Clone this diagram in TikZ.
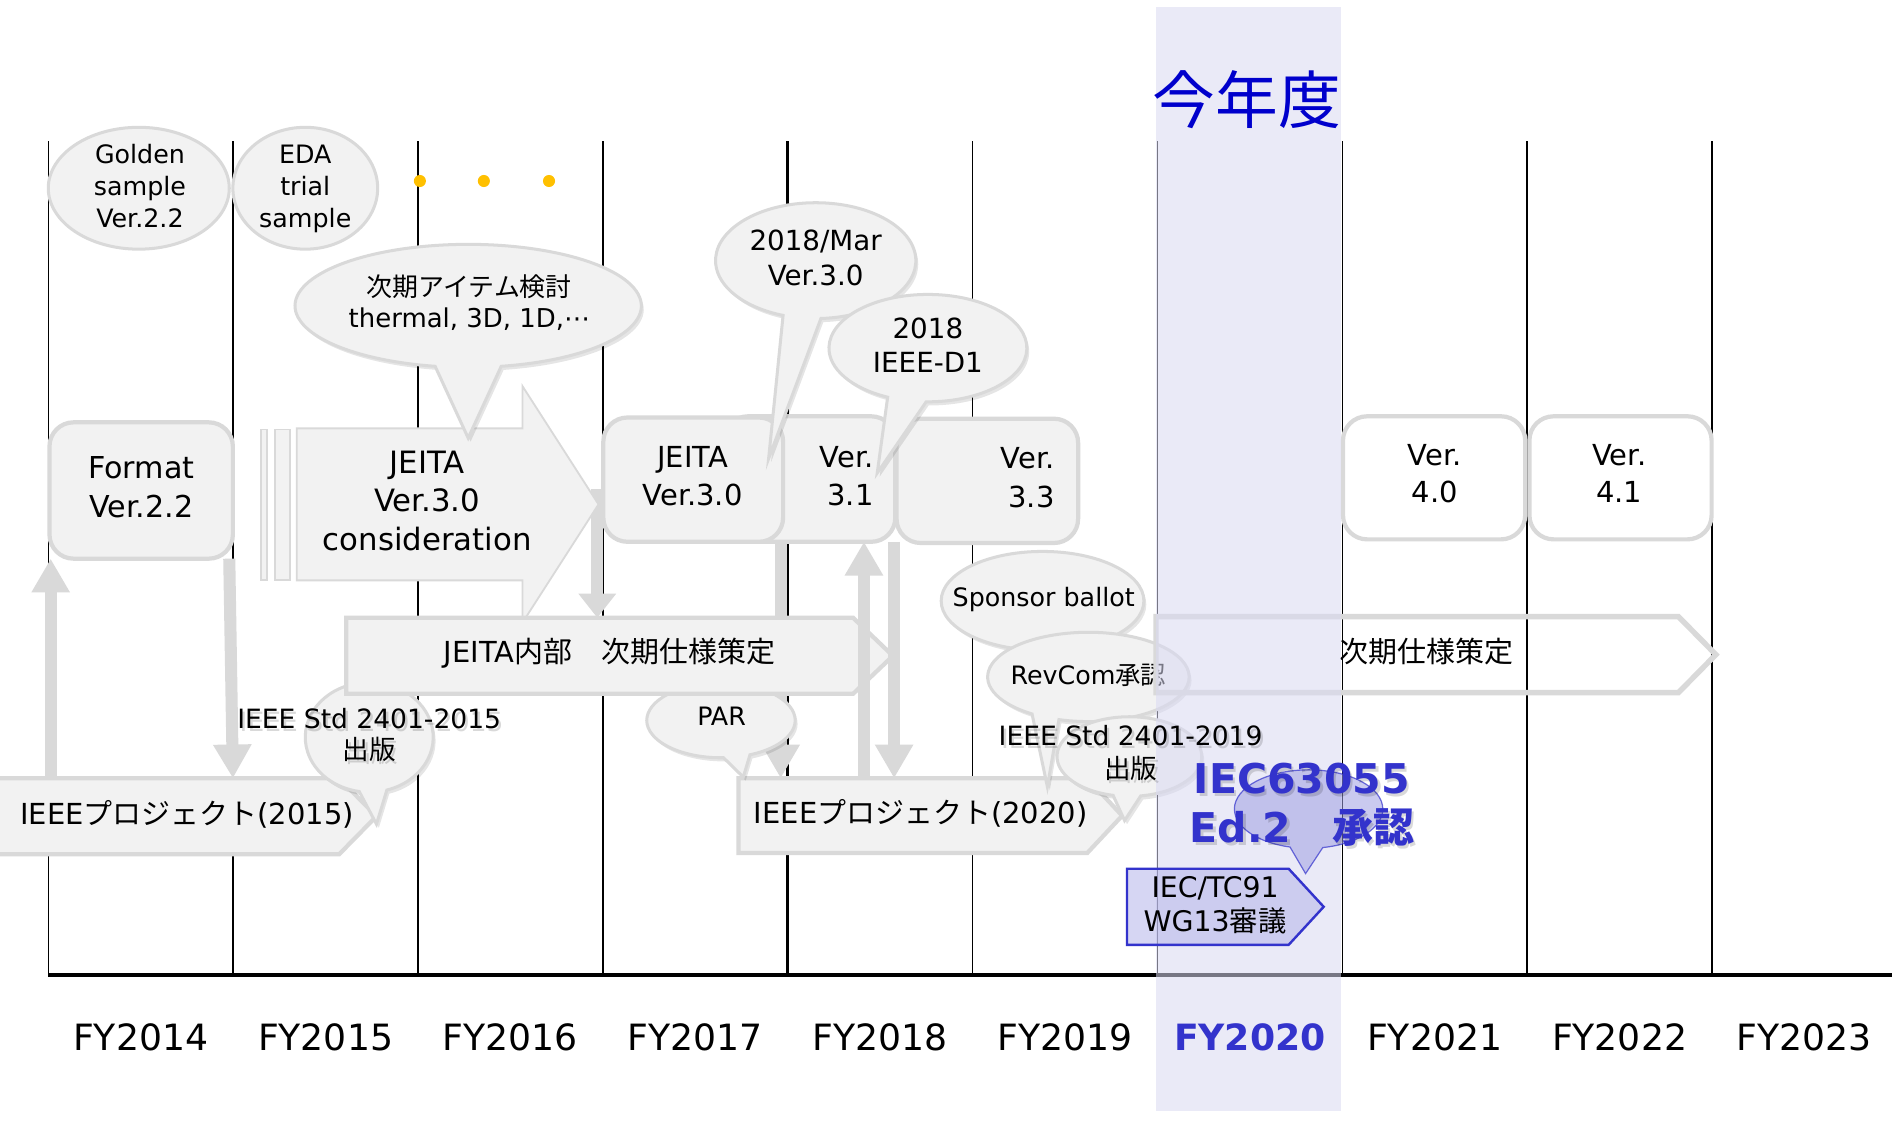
\documentclass[tikz,border=0pt]{standalone}
\usepackage{fontspec}
\setmainfont{DejaVu Sans}
\newfontfamily\jp{Noto Sans CJK JP}
\usetikzlibrary{arrows.meta}
\definecolor{gfill}{HTML}{F2F2F2}
\definecolor{gline}{HTML}{D9D9D9}
\definecolor{colbg}{RGB}{217,217,242}
\definecolor{nowblue}{RGB}{0,0,204}
\definecolor{iecblue}{RGB}{51,51,204}
\definecolor{iecfill}{RGB}{175,175,232}
\definecolor{ieccfill}{RGB}{160,160,226}
\definecolor{dotyel}{HTML}{FFC000}
\newcommand\J[1]{{\jp #1}}
\newcommand\fs[2]{\fontsize{#1}{#2}\selectfont}
\newcommand\callpath[9]{\path[#1] (#2,#3) ++(#6:#4pt and #5pt) arc[start angle=#6, end angle=#7, x radius=#4pt, y radius=#5pt] -- (#8,#9) -- cycle;}
\newcommand\callout[8]{\callpath{cshadow}{#1}{#2}{#3}{#4}{#5}{#6}{#7}{#8}\callpath{call}{#1}{#2}{#3}{#4}{#5}{#6}{#7}{#8}}
\tikzset{
  call/.style={fill=gfill, draw=gline, line width=2.5pt},
  cshadow/.style={fill=black, fill opacity=0.10, draw=none, shift={(2,3)}},
  ieccall/.style={fill=ieccfill, fill opacity=0.55, draw=iecblue, draw opacity=0.7, line width=1pt},
  bx/.style={fill=gfill, draw=gline, line width=3.5pt, rounded corners=20pt, inner sep=0pt, outer sep=0pt},
  wbx/.style={bx, fill=white},
  body/.style={inner sep=0pt, outer sep=0pt},
  pent/.style={fill=gfill, draw=gline, line width=3.5pt},
  garrow/.style={draw=gline, line width=10pt, -{Triangle[length=28pt,width=30pt]}},
  sarrow/.style={draw=gline, line width=10pt, -{Triangle[length=20pt,width=30pt]}},
  vline/.style={line width=1.2pt, black},
  lbl/.style={inner sep=0pt, outer sep=0pt, align=center},
  tshadow/.style={text=black, text opacity=0.15, shift={(2,2.5)}},
}
\begin{document}
\begin{tikzpicture}[x=1pt,y=-1pt]
\useasboundingbox (0,0) rectangle (1568,929);
\fill[white] (0,0) rectangle (1568,929);
% grid
\foreach \xx in {40,193.2,346.4,499.6,806,959.2,1112.4,1265.6,1418.8}{\draw[vline] (\xx,117) -- (\xx,808);}
\draw[vline, line width=2pt] (652.8,117) -- (652.8,808);
\draw[line width=3pt] (40,808) -- (1568,808);
% invisible bodies of the chevrons
\node[body, minimum width=286pt, minimum height=63pt] (p15) at (138,676.5) {};
\node[body, minimum width=289pt, minimum height=62pt] (p20) at (756.5,676) {};
\node[body, minimum width=420pt, minimum height=63pt] (jin) at (497,543.5) {};
\node[body, minimum width=433pt, minimum height=63pt] (jnx) at (1174.5,542.5) {};
\node[body, minimum width=134pt, minimum height=63pt] (iecb) at (1001,751.5) {};
\coordinate (xa) at (42,0); \coordinate (xb1) at (190,0); \coordinate (xb2) at (193,0);
\coordinate (xc) at (495,0); \coordinate (xd) at (647,0); \coordinate (xe) at (716,0); \coordinate (xf) at (741,0);
\coordinate (jtip) at (495,405);
% samples
\draw[call] (115,156) ellipse [x radius=75pt, y radius=50.5pt];
\node[lbl, font=\fs{21}{26.5}] (gold) at (116,154) {Golden\\sample\\Ver.2.2};
\draw[call] (253,156) ellipse [x radius=60pt, y radius=50.5pt];
\node[lbl, font=\fs{21}{26.5}] (eda) at (253,156.5) {EDA\\trial\\sample};
\fill[dotyel] (348,150) circle [radius=5pt];
\fill[dotyel] (401,150) circle [radius=5pt];
\fill[dotyel] (455,150) circle [radius=5pt];
% arrow c
\draw[sarrow] (jtip) -- (xc |- jin.north);
% Format
\node[bx, minimum width=152pt, minimum height=113pt] (fmt) at (117,406.5) {};
\node[lbl, font=\fs{25}{32}] (fmtt) at (117,404) {Format\\Ver.2.2};
\draw[garrow] (xa |- p15.north) -- (xa |- fmt.south);
\draw[garrow] (xb1 |- fmt.south) -- (xb2 |- p15.north);
% big arrow
\path[pent, line width=1.5pt] (246,355) -- (433,355) -- (433,320) -- (496,418) -- (433,516) -- (433,481) -- (246,481) -- cycle;
\draw[fill=gfill, draw=gline, line width=1.5pt] (216,356) rectangle (221,481);
\draw[fill=gfill, draw=gline, line width=1.5pt] (228,356) rectangle (240,481);
\node[lbl, font=\fs{25.5}{32}] (jcons) at (354,415) {JEITA\\Ver.3.0\\consideration};
% next items callout
\callout{388}{253.5}{143.5}{51}{281}{619}{388}{363}
\node[lbl, font=\fs{21.5}{26}] (nxt) at (389,251) {\J{次期アイテム検討}\\thermal, 3D, 1D,⋯};
% version boxes
\node[bx, minimum width=142pt, minimum height=104pt] (v31) at (671,397) {};
\node[lbl, font=\fs{24}{31}, anchor=east, align=right] (v31t) at (724,394.5) {Ver.\\3.1};
\node[bx, minimum width=150.5pt, minimum height=103pt] (v33) at (818.25,398.5) {};
\node[lbl, font=\fs{24}{32}, anchor=east, align=right] (v33t) at (874,396) {Ver.\\3.3};
\node[bx, minimum width=149pt, minimum height=103pt] (j30) at (574.5,397.5) {};
\node[lbl, font=\fs{24}{31}] (j30t) at (574,394.5) {JEITA\\Ver.3.0};
\node[wbx, minimum width=151pt, minimum height=102pt] (v40) at (1188.5,396) {};
\node[lbl, font=\fs{24}{31}] (v40t) at (1189,392.5) {Ver.\\4.0};
\node[wbx, minimum width=151pt, minimum height=102pt] (v41) at (1343,396) {};
\node[lbl, font=\fs{24}{31}] (v41t) at (1342,392.5) {Ver.\\4.1};
% 2018 callouts
\callout{676}{216}{83}{48}{273}{611}{637}{380}
\node[lbl, font=\fs{23}{29}] (mar) at (676,213.5) {2018/Mar\\Ver.3.0};
\callout{769}{288.5}{82}{44.5}{269}{606}{727}{392}
\node[lbl, font=\fs{23}{28}] (d1) at (769,286) {2018\\IEEE-D1};
% IEEE project 2015
\path[pent] (p15.north west) -- (p15.north east) -- ([xshift=31pt]p15.east) -- (p15.south east) -- (p15.south west) -- cycle;
\node[lbl, font=\fs{24}{29}] (p15t) at (155,675) {IEEE\J{プロジェクト}(2015)};
\callout{306}{611}{53}{45.5}{286}{621}{312}{683}
% IEEE project 2020
\path[pent] (p20.north west) -- (p20.north east) -- ([xshift=29pt]p20.east) -- (p20.south east) -- (p20.south west) -- cycle;
\node[lbl, font=\fs{24}{29}] (p20t) at (763,674) {IEEE\J{プロジェクト}(2020)};
\draw[garrow] (xd |- j30.south) -- (xd |- p20.north);
% PAR
\callout{597.5}{597}{61.5}{31}{293}{632}{616}{644}
\node[lbl, font=\fs{21}{26}] (par) at (598,594) {PAR};
% JEITA internal
\path[pent] (jin.north west) -- (jin.north east) -- ([xshift=33pt]jin.east) -- (jin.south east) -- (jin.south west) -- cycle;
\node[lbl, font=\fs{24}{29}] (jint) at (505,541) {JEITA\J{内部　次期仕様策定}};
\draw[garrow] (xe |- p20.north) -- (xe |- v31.south);
\draw[garrow] (xf |- v31.south) -- (xf |- p20.north);
% sponsor ballot etc
\fill[black, fill opacity=0.1, shift={(2,3)}] (864,498) ellipse [x radius=84pt, y radius=41pt];
\draw[call] (864,498) ellipse [x radius=84pt, y radius=41pt];
\node[lbl, font=\fs{21}{26}] (spon) at (865,497) {Sponsor ballot};
\callout{902}{561}{83.5}{37}{253}{596}{868}{652}
\node[lbl, font=\fs{21}{26}] (rev) at (902,560) {RevCom\J{承認}};
\callout{936}{627}{60}{33}{279}{617}{932}{680}
% next spec (outline)
\draw[draw=gline, line width=4.5pt] (jnx.north west) -- (jnx.north east) -- ([xshift=31pt]jnx.east) -- (jnx.south east) -- (jnx.south west) -- cycle;
\node[lbl, font=\fs{24}{29}] (jnxt) at (1182,540) {\J{次期仕様策定}};
% this year column
\fill[colbg, opacity=0.55] (958,6) rectangle (1111,921);
% texts on top
\node[lbl, font=\fs{22}{26}, tshadow] (s15) at (306,609) {IEEE Std 2401-2015\\\J{出版}};
\node[lbl, font=\fs{22}{26}] (t15) at (306,609) {IEEE Std 2401-2015\\\J{出版}};
\node[lbl, font=\fs{22}{27}, tshadow] (s19) at (937,624) {IEEE Std 2401-2019\\\J{出版}};
\node[lbl, font=\fs{22}{27}] (t19) at (937,624) {IEEE Std 2401-2019\\\J{出版}};
\node[lbl, font={\fs{52}{60}\jp}, text=nowblue] (now) at (1033.5,83) {今年度};
\node[lbl, font=\fs{30}{36}] (fy14) at (116.6,860) {FY2014};
\node[lbl, font=\fs{30}{36}] (fy15) at (269.8,860) {FY2015};
\node[lbl, font=\fs{30}{36}] (fy16) at (423.0,860) {FY2016};
\node[lbl, font=\fs{30}{36}] (fy17) at (576.2,860) {FY2017};
\node[lbl, font=\fs{30}{36}] (fy18) at (729.4,860) {FY2018};
\node[lbl, font=\fs{30}{36}] (fy19) at (882.6,860) {FY2019};
\node[lbl, font=\fs{30}{36}\bfseries, text=iecblue] (fy20) at (1035.8,860) {FY2020};
\node[lbl, font=\fs{30}{36}] (fy21) at (1189.0,860) {FY2021};
\node[lbl, font=\fs{30}{36}] (fy22) at (1342.2,860) {FY2022};
\node[lbl, font=\fs{30}{36}] (fy23) at (1495.4,860) {FY2023};
% IEC
\path[fill=iecfill, fill opacity=0.5, draw=iecblue, line width=2pt] (iecb.north west) -- (iecb.north east) -- ([xshift=29pt]iecb.east) -- (iecb.south east) -- (iecb.south west) -- cycle;
\node[lbl, font=\fs{23.5}{28}] (iect) at (1007,750.4) {IEC/TC91\\WG13\J{審議}};
\callpath{ieccall}{1084.5}{670.5}{61.5}{32.5}{281}{615.5}{1082}{724}
\node[lbl, font=\fs{34}{41}\bfseries, tshadow] (siec) at (1079,667) {IEC63055\\Ed.2\J{　承認}};
\node[lbl, font=\fs{34}{41}\bfseries, text=iecblue] (tiec) at (1079,667) {IEC63055\\Ed.2\J{　承認}};
\end{tikzpicture}
\end{document}
